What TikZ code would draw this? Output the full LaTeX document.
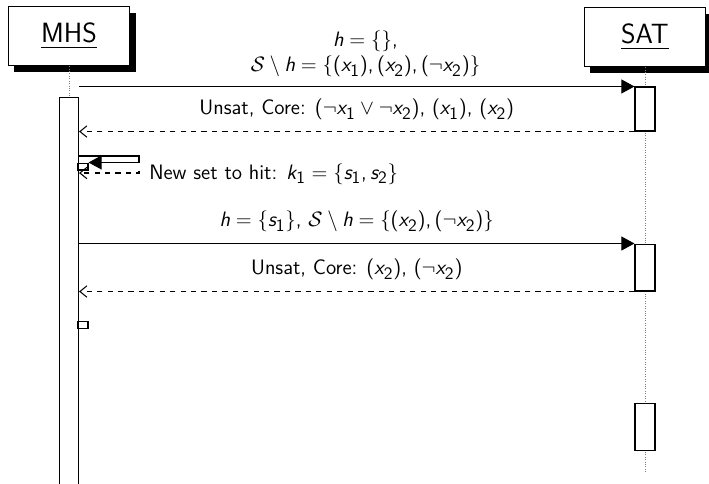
\documentclass[tikz,border=0pt]{standalone}
\usepackage{amsmath,amssymb}
\renewcommand{\familydefault}{\sfdefault}
\usepackage[italic]{mathastext}
\usetikzlibrary{arrows.meta,calc,positioning,shadows}

\begin{document}
\begin{tikzpicture}[x=0.575pt,y=-0.575pt,font=\fontsize{12}{14.5}\selectfont,semithick,
  >={Triangle[length=7.5pt,width=8pt]},
  inst/.style={draw,fill=white,minimum width=70pt,minimum height=34pt,inner sep=0pt,
    font=\fontsize{16}{19}\selectfont,drop shadow={fill=black,opacity=1,shadow xshift=3.5pt,shadow yshift=-3.5pt}},
  bar/.style={draw,fill=white,minimum width=11.5pt,inner sep=0pt},
  tick/.style={draw,fill=white,minimum width=5.75pt,minimum height=4pt,inner sep=0pt},
  call/.style={->},
  reply/.style={dashed,-{Straight Barb[length=4pt,width=6.5pt]}},
  life/.style={densely dotted,gray,thin}]
\useasboundingbox (0,0) rectangle (709,483);
% instances and lifelines
\node[inst] (mhs) at (69,36) {\underline{MHS}};
\node[inst] (sat) at (645,37) {\underline{SAT}};
\coordinate (mhsend) at (69,97);
\coordinate (satend) at (645,472);
\draw[life] (mhs.south) -- (mhsend);
\draw[life] (sat.south) -- (satend);
% activation bars
\node[bar,anchor=north,minimum width=11pt,minimum height=223pt] (mhsbar) at (mhsend) {};
\node[bar,minimum height=25.3pt] (sat1) at (645,109) {};
\node[bar,minimum height=27pt] (sat2) at (645,267.5) {};
\node[bar,minimum height=26.5pt] (sat3) at (645,427) {};
\node[tick] (self1) at (83,166.5) {};
\node[tick] (self2) at (83,325) {};
% first round
\draw[call] (mhsbar.east |- sat1.north west) -- node[above=2pt,align=center,xshift=5pt] (q1)
  {$h=\{\}$,\\ $\mathcal{S}\setminus h=\{(x_1),(x_2),(\neg x_2)\}$} (sat1.north west);
\draw[reply] (sat1.south west) -- node[above=3pt] (r1)
  {Unsat, Core: $(\neg x_1\vee\neg x_2)$, $(x_1)$, $(x_2)$} (mhsbar.east |- sat1.south west);
% self call
\coordinate (turn) at (139,156);
\coordinate (back) at (139,173);
\draw[call] (mhsbar.east |- turn) -- (turn) |- (self1.north east);
\draw[reply] (self1.south east -| back) -- (back) -- (mhsbar.east |- back);
\node[anchor=west] (k1) at (143,174) {New set to hit: $k_1=\{s_1,s_2\}$};
% second round
\draw[call] (mhsbar.east |- sat2.north west) -- node[above=3pt] (q2)
  {$h=\{s_1\}$, $\mathcal{S}\setminus h=\{(x_2),(\neg x_2)\}$} (sat2.north west);
\draw[reply] (sat2.south west) -- node[above=3pt] (r2)
  {Unsat, Core: $(x_2)$, $(\neg x_2)$} (mhsbar.east |- sat2.south west);
\end{tikzpicture}
\end{document}
